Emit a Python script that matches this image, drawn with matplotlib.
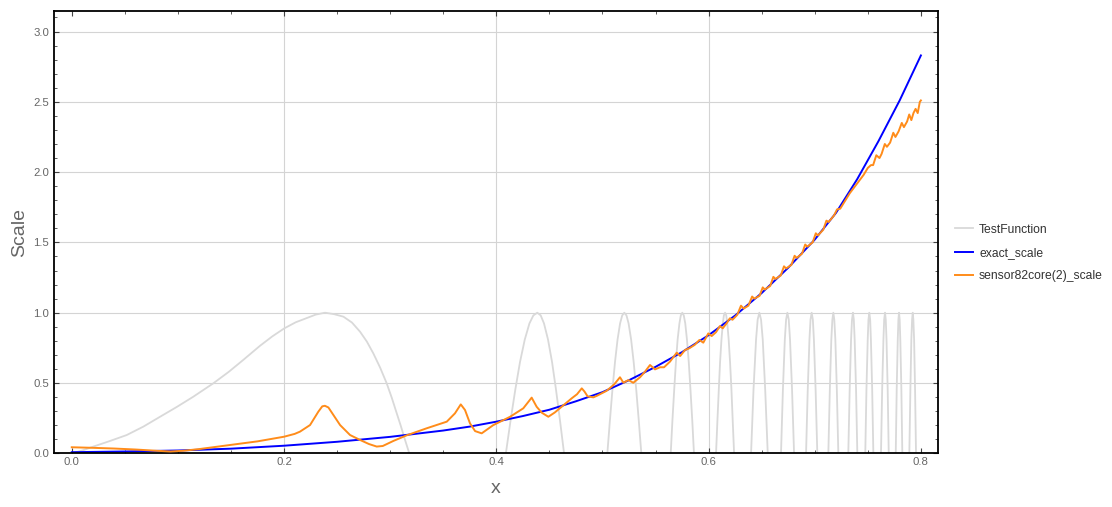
import matplotlib.pyplot as plt
from matplotlib.ticker import MultipleLocator, FormatStrFormatter

plt.rcParams['font.family'] = ['Liberation Sans', 'DejaVu Sans']

# exact_scale (blue)
exact_x = [0.0, 0.05, 0.1, 0.15, 0.2, 0.25, 0.3, 0.35, 0.375, 0.4, 0.425, 0.45, 0.475,
           0.5, 0.525, 0.55, 0.575, 0.6, 0.625, 0.65, 0.675, 0.7, 0.72, 0.74, 0.76, 0.78, 0.8]
exact_y = [0.008, 0.013, 0.020, 0.033, 0.054, 0.082, 0.117, 0.162, 0.190, 0.225, 0.265, 0.310, 0.370,
           0.435, 0.520, 0.615, 0.720, 0.840, 0.980, 1.140, 1.320, 1.520, 1.710, 1.950, 2.220, 2.510, 2.830]

# sensor82core(2)_scale (orange)
sensor_x = [0.000, 0.020, 0.040, 0.060, 0.080, 0.093, 0.105, 0.120, 0.146, 0.175,
            0.200, 0.210, 0.215, 0.2245, 0.2323, 0.2360, 0.2385, 0.2418, 0.2465, 0.2528,
            0.2622, 0.2716, 0.2800, 0.2873, 0.2930, 0.3030, 0.3156, 0.3344, 0.3533, 0.3610,
            0.3665, 0.3705, 0.3752, 0.3800, 0.3862, 0.3970, 0.4130, 0.4254, 0.4333, 0.4380,
            0.4428, 0.4490, 0.4550, 0.4647, 0.4710, 0.4760, 0.4805, 0.4830, 0.4860, 0.4914,
            0.4950, 0.5040, 0.5110, 0.5165, 0.5197, 0.5244, 0.5290, 0.5354, 0.5400, 0.5448,
            0.5495, 0.5542, 0.5580, 0.5636, 0.5700, 0.5732, 0.5778, 0.5820, 0.5870, 0.5913,
            0.5950, 0.5997, 0.6029, 0.6070, 0.6107, 0.6133, 0.6170, 0.6200, 0.6225, 0.6270,
            0.6305, 0.6330, 0.6375, 0.6410, 0.6430, 0.6480, 0.6510, 0.6530, 0.6580, 0.6610,
            0.6630, 0.6680, 0.6710, 0.6730, 0.6780, 0.6810, 0.6830, 0.6880, 0.6910, 0.6930,
            0.6980, 0.7010, 0.7030, 0.7080, 0.7110, 0.7130, 0.7180, 0.7210, 0.7240, 0.7330,
            0.7420, 0.7460, 0.7500, 0.7530, 0.7550, 0.7580, 0.7610, 0.7630, 0.7660, 0.7680,
            0.7710, 0.7740, 0.7760, 0.7790, 0.7820, 0.7840, 0.7870, 0.7890, 0.7910, 0.7930,
            0.7950, 0.7970, 0.7990, 0.8000]
sensor_y = [0.043, 0.039, 0.034, 0.027, 0.018, 0.013, 0.018, 0.030, 0.056, 0.085,
            0.118, 0.138, 0.154, 0.201, 0.296, 0.334, 0.338, 0.326, 0.272, 0.201,
            0.130, 0.095, 0.066, 0.048, 0.052, 0.088, 0.128, 0.178, 0.225, 0.284,
            0.348, 0.308, 0.213, 0.158, 0.142, 0.200, 0.260, 0.320, 0.396, 0.331,
            0.289, 0.260, 0.290, 0.351, 0.391, 0.420, 0.462, 0.440, 0.405, 0.398,
            0.410, 0.445, 0.490, 0.541, 0.502, 0.521, 0.502, 0.541, 0.580, 0.628,
            0.597, 0.612, 0.612, 0.652, 0.716, 0.692, 0.735, 0.748, 0.772, 0.806,
            0.787, 0.853, 0.834, 0.862, 0.905, 0.889, 0.925, 0.960, 0.950, 0.985,
            1.050, 1.030, 1.050, 1.115, 1.100, 1.120, 1.180, 1.165, 1.190, 1.255,
            1.240, 1.265, 1.330, 1.315, 1.340, 1.405, 1.390, 1.420, 1.485, 1.470,
            1.500, 1.565, 1.550, 1.590, 1.655, 1.645, 1.690, 1.735, 1.740, 1.850,
            1.940, 1.980, 2.030, 2.050, 2.050, 2.120, 2.100, 2.130, 2.200, 2.180,
            2.210, 2.280, 2.250, 2.290, 2.350, 2.320, 2.360, 2.410, 2.370, 2.420,
            2.450, 2.420, 2.500, 2.510]

# TestFunction (light gray): only its positive arches are inside the frame
test_first_x = [0.000, 0.010, 0.020, 0.035, 0.0518, 0.0675, 0.0832, 0.0990, 0.1146, 0.1334,
                0.1480, 0.1617, 0.1774, 0.1890, 0.2003, 0.2110, 0.2214, 0.2300, 0.2386, 0.2470,
                0.2559, 0.2640, 0.2716, 0.2780, 0.2841, 0.2905, 0.2967, 0.3015, 0.3062, 0.3100,
                0.3140, 0.3180]
test_first_y = [0.000, 0.020, 0.047, 0.085, 0.130, 0.190, 0.260, 0.330, 0.403, 0.498,
                0.580, 0.665, 0.765, 0.832, 0.889, 0.932, 0.962, 0.987, 1.000, 0.990,
                0.972, 0.930, 0.865, 0.795, 0.711, 0.610, 0.498, 0.395, 0.284, 0.195,
                0.095, 0.000]

# wider arches, 15 samples each
wide_arch_y = [0.0, 0.233, 0.454, 0.649, 0.809, 0.924, 0.981, 1.0,
               0.981, 0.924, 0.809, 0.649, 0.454, 0.233, 0.0]
wide_arch_x = [
    [0.4090, 0.4134, 0.4179, 0.4223, 0.4268, 0.4312, 0.4349, 0.4386,
     0.4418, 0.4449, 0.4487, 0.4525, 0.4562, 0.4600, 0.4638],
    [0.5046, 0.5070, 0.5094, 0.5118, 0.5142, 0.5166, 0.5186, 0.5206,
     0.5226, 0.5246, 0.5270, 0.5294, 0.5318, 0.5342, 0.5366],
    [0.5643, 0.5659, 0.5676, 0.5692, 0.5708, 0.5725, 0.5738, 0.5752,
     0.5766, 0.5780, 0.5796, 0.5813, 0.5829, 0.5846, 0.5862],
    [0.6070, 0.6083, 0.6096, 0.6108, 0.6121, 0.6134, 0.6144, 0.6155,
     0.6166, 0.6176, 0.6189, 0.6202, 0.6215, 0.6227, 0.6240],
]

# narrow arches, 9 samples each
arch_y = [0.0, 0.454, 0.809, 0.951, 1.0, 0.951, 0.809, 0.454, 0.0]
arch_x = [
    [0.6400, 0.6423, 0.6447, 0.6462, 0.6478, 0.6494, 0.6510, 0.6533, 0.6557],
    [0.6682, 0.6700, 0.6718, 0.6730, 0.6742, 0.6755, 0.6767, 0.6786, 0.6805],
    [0.6918, 0.6934, 0.6950, 0.6960, 0.6971, 0.6982, 0.6992, 0.7008, 0.7024],
    [0.7128, 0.7142, 0.7156, 0.7166, 0.7175, 0.7184, 0.7194, 0.7208, 0.7222],
    [0.7316, 0.7329, 0.7342, 0.7351, 0.7360, 0.7368, 0.7376, 0.7389, 0.7401],
    [0.7476, 0.7487, 0.7499, 0.7506, 0.7514, 0.7522, 0.7529, 0.7541, 0.7552],
    [0.7624, 0.7635, 0.7647, 0.7654, 0.7662, 0.7669, 0.7676, 0.7687, 0.7697],
    [0.7763, 0.7772, 0.7782, 0.7788, 0.7794, 0.7800, 0.7806, 0.7816, 0.7825],
    [0.7891, 0.7901, 0.7910, 0.7917, 0.7923, 0.7929, 0.7936, 0.7945, 0.7954],
]

labels = ["TestFunction", "exact_scale", "sensor82core(2)_scale"]
colors = ["#d9d9d9", "#0000ff", "#ff8c1a"]

fig = plt.figure(figsize=(11.12, 5.07), dpi=100)
ax = fig.add_axes([0.0483, 0.1059, 0.7955, 0.8724])

for gx in [0.2, 0.4, 0.6]:
    ax.axvline(gx, color="#d4d4d4", lw=0.8, zorder=0)
for gy in [0.5, 1.0, 1.5, 2.0, 2.5, 3.0]:
    ax.axhline(gy, color="#d4d4d4", lw=0.8, zorder=0)

l1, = ax.plot(test_first_x, test_first_y, color=colors[0], lw=1.3, zorder=1)
for wx in wide_arch_x:
    ax.plot(wx, wide_arch_y, color=colors[0], lw=1.3, zorder=1)
for nx in arch_x:
    ax.plot(nx, arch_y, color=colors[0], lw=1.3, zorder=1)
l2, = ax.plot(exact_x, exact_y, color=colors[1], lw=1.4, zorder=2)
l3, = ax.plot(sensor_x, sensor_y, color=colors[2], lw=1.4, zorder=3)

ax.set_xlim(-0.017, 0.8164)
ax.set_ylim(0, 3.146)
ax.xaxis.set_major_locator(MultipleLocator(0.2))
ax.xaxis.set_minor_locator(MultipleLocator(0.05))
ax.yaxis.set_major_locator(MultipleLocator(0.5))
ax.yaxis.set_minor_locator(MultipleLocator(0.1))
ax.xaxis.set_major_formatter(FormatStrFormatter('%.1f'))
ax.yaxis.set_major_formatter(FormatStrFormatter('%.1f'))
ax.tick_params(which='both', direction='in', top=True, right=True, color='#444444',
               labelcolor='#666666', labelsize=8.2)
ax.tick_params(which='major', length=3.6, width=0.8)
ax.tick_params(which='minor', length=2.2, width=0.6)
ax.tick_params(axis='y', pad=3.2)
ax.tick_params(axis='x', pad=3.0)
for s in ax.spines.values():
    s.set_color('black')
    s.set_linewidth(1.3)

ax.set_xlabel("x", fontsize=14, color='#666666', labelpad=9)
ax.set_ylabel("Scale", fontsize=14, color='#666666', labelpad=3.5)

ax.legend([l1, l2, l3], labels, loc='upper left', bbox_to_anchor=(955 / 1112, 1 - 223.7 / 507),
          bbox_transform=fig.transFigure, frameon=False, borderpad=0, borderaxespad=0,
          handlelength=1.52, handletextpad=0.47, labelspacing=0.92, fontsize=8.7,
          labelcolor='#333333')

plt.savefig("out.png", dpi=100)
